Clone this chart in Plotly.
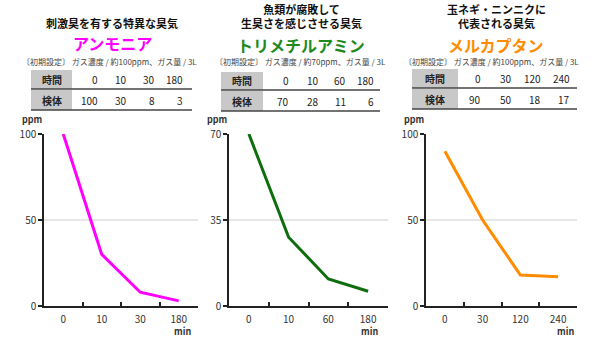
import plotly.graph_objects as go

# ---------------- data ----------------
compound_names = ["アンモニア", "トリメチルアミン", "メルカプタン"]
descriptions = [
    ["刺激臭を有する特異な臭気"],
    ["魚類が腐敗して", "生臭さを感じさせる臭気"],
    ["玉ネギ・ニンニクに", "代表される臭気"],
]
settings_text = [
    "〔初期設定〕 ガス濃度 / 約100ppm、ガス量 / 3L",
    "〔初期設定〕 ガス濃度 / 約70ppm、ガス量 / 3L",
    "〔初期設定〕 ガス濃度 / 約100ppm、ガス量 / 3L",
]
row_labels = ["時間", "検体"]
time_labels = [
    ["0", "10", "30", "180"],
    ["0", "10", "60", "180"],
    ["0", "30", "120", "240"],
]
ppm_values = [
    [100, 30, 8, 3],
    [70, 28, 11, 6],
    [90, 50, 18, 17],
]
y_max = [100, 70, 100]
y_unit = "ppm"
x_unit = "min"

# ---------------- style / layout ----------------
W, H = 600, 337
FONT = "Noto Sans CJK JP"
name_colors = ["#FF00FF", "#1E8A1E", "#FF8C00"]
line_colors = ["#FF00FF", "#0E6E0E", "#FF8C00"]
axis_px = [(44, 198), (229, 388), (426, 577)]   # x extents of plot areas
y_px_bottom, y_px_top = 306, 134
title_cx = [112, 301, 496]
desc_y = [23, 16, 16]
name_y = [43, 45, 45]
settings_cx = [110, 300, 492]
settings_y = 61
gray_x = [(31, 72), (221, 263), (412, 458)]
table_end = [192, 380, 577]
rows_y = [[(70, 89), (90, 110)], [(72, 90), (91, 111)], [(69, 88), (89, 109)]]
col_right = [[100, 129, 157, 185], [291, 321, 348, 376], [483, 514, 543, 572]]
min_x = [182, 369, 565]


def px(x):
    return x / W


def py(y):
    return 1 - y / H


def ann(text, x, y, size, color, xanchor="center"):
    return dict(text=text, x=px(x), y=py(y), xref="paper", yref="paper",
                showarrow=False, xanchor=xanchor, yanchor="middle",
                font=dict(family=FONT, size=size, color=color))


fig = go.Figure()
annotations = []
shapes = []

for i in range(3):
    sfx = "" if i == 0 else str(i + 1)
    xa, ya = "x" + sfx, "y" + sfx
    fig.add_trace(go.Scatter(
        x=time_labels[i], y=ppm_values[i], mode="lines",
        line=dict(color=line_colors[i], width=3),
        xaxis=xa, yaxis=ya, showlegend=False, hoverinfo="skip",
    ))
    x0, x1 = axis_px[i]
    fig.layout["xaxis" + sfx] = dict(
        domain=[px(x0), px(x1)], anchor=ya, type="category",
        categoryarray=time_labels[i], categoryorder="array",
        range=[-0.5, len(time_labels[i]) - 0.5], tickson="boundaries",
        ticks="inside", ticklen=4, tickwidth=1.5, tickcolor="#222",
        showline=True, linecolor="#222", linewidth=1.5,
        showgrid=False, zeroline=False, fixedrange=True, automargin=False,
        tickfont=dict(family=FONT, size=10, color="#333"),
        ticklabelstandoff=3,
    )
    fig.layout["yaxis" + sfx] = dict(
        domain=[py(y_px_bottom), py(y_px_top)], anchor=xa,
        range=[0, y_max[i]], tickvals=[0, y_max[i] / 2, y_max[i]],
        ticktext=[str(v) for v in [0, y_max[i] // 2, y_max[i]]],
        ticks="outside", ticklen=4, tickwidth=1.5, tickcolor="#222",
        showline=True, linecolor="#222", linewidth=1.5,
        showgrid=False, zeroline=False, fixedrange=True, automargin=False,
        tickfont=dict(family=FONT, size=10, color="#333"),
    )
    # mid grid line
    shapes.append(dict(type="line", xref=xa + " domain", yref=ya,
                       x0=0, x1=1, y0=y_max[i] / 2, y1=y_max[i] / 2,
                       line=dict(color="#cccccc", width=1), layer="below"))
    # unit labels
    annotations.append(ann(f"<b>{y_unit}</b>", x0 - 12, 119, 9, "#333"))
    annotations.append(ann(f"<b>{x_unit}</b>", min_x[i], 331, 9, "#333"))
    # titles
    desc = "<br>".join(f"<b>{line}</b>" for line in descriptions[i])
    annotations.append(ann(desc, title_cx[i], desc_y[i], 11, "#111"))
    annotations.append(ann(f"<b>{compound_names[i]}</b>", title_cx[i], name_y[i],
                           16, name_colors[i]))
    annotations.append(ann(settings_text[i], settings_cx[i], settings_y, 8, "#444"))
    # table
    gx0, gx1 = gray_x[i]
    row_vals = [time_labels[i], [str(v) for v in ppm_values[i]]]
    for r, (ry0, ry1) in enumerate(rows_y[i]):
        shapes.append(dict(type="rect", xref="paper", yref="paper",
                           x0=px(gx0), x1=px(gx1), y0=py(ry1), y1=py(ry0),
                           fillcolor="#c8c8c8", line=dict(width=0), layer="below"))
        shapes.append(dict(type="line", xref="paper", yref="paper",
                           x0=px(gx0), x1=px(table_end[i]), y0=py(ry1), y1=py(ry1),
                           line=dict(color="#444", width=1.5)))
        cy = (ry0 + ry1) / 2
        annotations.append(ann(f"<b>{row_labels[r]}</b>", (gx0 + gx1) / 2, cy, 10, "#222"))
        for c, val in enumerate(row_vals[r]):
            annotations.append(ann(val, col_right[i][c], cy, 10, "#222", xanchor="right"))

fig.update_layout(
    width=W, height=H, margin=dict(l=0, r=0, t=0, b=0, autoexpand=False),
    paper_bgcolor="white", plot_bgcolor="white",
    annotations=annotations, shapes=shapes, showlegend=False,
)
fig.write_html("out.html", config={"displayModeBar": False})
